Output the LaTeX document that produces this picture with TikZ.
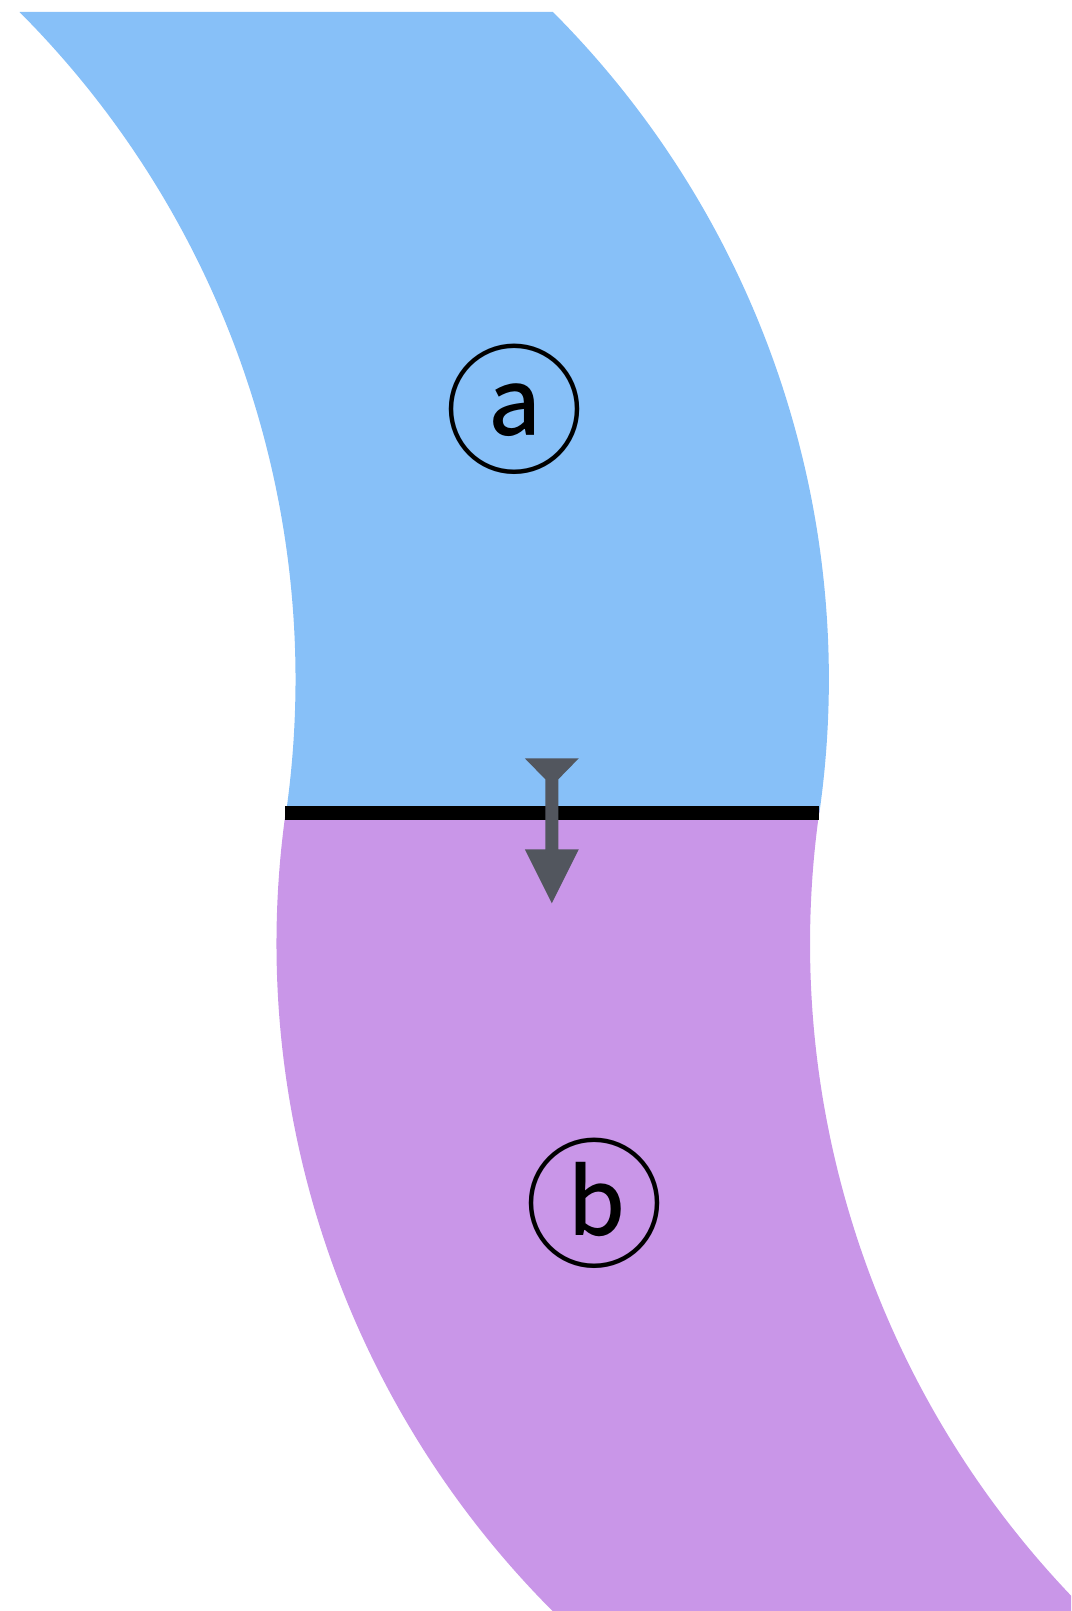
\documentclass[tikz,border=0pt]{standalone}
\usepackage{fontspec}
\newfontfamily\circfont{Noto Sans CJK SC}
\definecolor{bandblue}{HTML}{87C0F8}
\definecolor{bandpurple}{HTML}{C996E8}
\definecolor{arrowgray}{HTML}{52565E}
\begin{document}
\begin{tikzpicture}[x=1pt,y=1pt,
  circlabel/.style={inner sep=0pt, font=\circfont\fontsize{140}{140}\selectfont}]
\useasboundingbox (0,0) rectangle (1071,1611);
\clip (0,0) rectangle (1071,1611);
% blue band
\fill[bandblue] (19.5,1599) -- (552.9,1599)
  arc[start angle=44.94, end angle=-8.14, radius=944.6pt]
  -- (286,797.95)
  arc[start angle=-8.14, end angle=44.94, radius=944.6pt] -- cycle;
% purple band
\fill[bandpurple] (286,801.05)
  arc[start angle=171.86, end angle=224.94, radius=944.6pt]
  -- (1086,0)
  arc[start angle=224.94, end angle=171.86, radius=944.6pt] -- cycle;
% boundary line
\coordinate (lineL) at (285,798);
\coordinate (lineR) at (819,798);
\draw[line width=14pt, black] (lineL) -- (lineR);
% arrow
\coordinate (arrtop) at (551.8,852.7);
\coordinate (arrtip) at (551.8,707.7);
\fill[arrowgray] (arrtop) ++(-27,0) -- ++(54,0) -- ++(-20.5,-21) -- ++(0,-70)
  -- ++(20.5,0) -- (arrtip) -- ++(-27,54) -- ++(20.5,0) -- ++(0,70) -- cycle;
% labels
\node[circlabel] (la) at (514,1201.5) {ⓐ};
\node[circlabel] (lb) at (594.5,407.5) {ⓑ};
\end{tikzpicture}
\end{document}
